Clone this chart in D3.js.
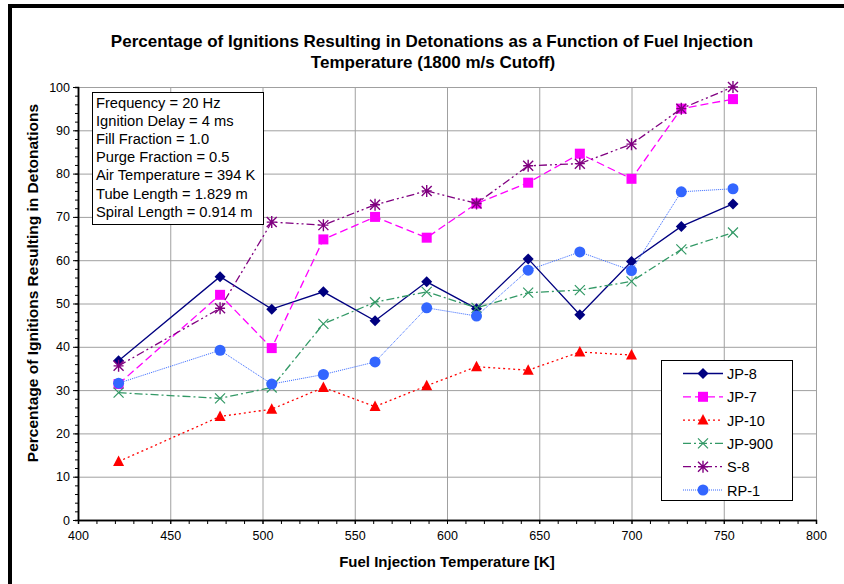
<!DOCTYPE html>
<html><head><meta charset="utf-8">
<script src="https://cdn.jsdelivr.net/npm/d3@7"></script>
<style>body{margin:0;background:#fff}svg{display:block}text{font-family:"Liberation Sans",Arial,sans-serif}</style>
</head><body><div id="chart"></div>
<script>
const temps = [422, 477, 505, 533, 561, 589, 616, 644, 672, 700, 727, 755];
const jp8   = [36.8, 56.2, 48.7, 52.7, 46.0, 55.0, 48.8, 60.3, 47.4, 59.7, 67.8, 73.0];
const jp7   = [31.4, 52.0, 39.7, 64.8, 70.0, 65.2, 73.1, 77.9, 84.6, 78.8, 95.0, 97.2];
const jp10  = [13.5, 23.9, 25.6, 30.6, 26.2, 31.0, 35.4, 34.6, 38.8, 38.1];
const jp900 = [29.4, 28.1, 30.6, 45.3, 50.3, 52.7, 49.0, 52.5, 53.1, 55.1, 62.5, 66.4];
const s8    = [35.6, 48.9, 68.8, 68.1, 72.8, 76.0, 73.1, 81.8, 82.3, 86.8, 95.0, 100.0];
const rp1   = [31.6, 39.2, 31.4, 33.6, 36.5, 49.0, 47.1, 57.7, 61.9, 57.6, 75.8, 76.5];
const seriesNames = ["JP-8", "JP-7", "JP-10", "JP-900", "S-8", "RP-1"];
const xTicks = [400, 450, 500, 550, 600, 650, 700, 750, 800];
const yTicks = [0, 10, 20, 30, 40, 50, 60, 70, 80, 90, 100];
const titleLines = ["Percentage of Ignitions Resulting in Detonations as a Function of Fuel Injection", "Temperature (1800 m/s Cutoff)"];
const infoLines = ["Frequency = 20 Hz", "Ignition Delay = 4 ms", "Fill Fraction = 1.0", "Purge Fraction = 0.5", "Air Temperature = 394 K", "Tube Length = 1.829 m", "Spiral Length = 0.914 m"];

const seriesData = [jp8, jp7, jp10, jp900, s8, rp1];
const styles = [
  {color:"#000080", dash:null, width:1.3, marker:"diamond"},
  {color:"#FF00FF", dash:"8,4", width:1.3, marker:"square"},
  {color:"#FF0000", dash:"2,3", width:1.3, marker:"triangle"},
  {color:"#339966", dash:"8,3,2,3", width:1.3, marker:"x"},
  {color:"#800080", dash:"8,3,2,3,2,3", width:1.3, marker:"asterisk"},
  {color:"#3366FF", dash:"1,1", width:1, marker:"circle"}
];

const W = 844, H = 584;
const svg = d3.select("#chart").append("svg").attr("width", W).attr("height", H);
svg.append("rect").attr("width", W).attr("height", H).attr("fill", "#fff");
// frame
svg.append("rect").attr("x", 8).attr("y", 4).attr("width", W - 8).attr("height", 4).attr("fill", "#000");
svg.append("rect").attr("x", 8).attr("y", 4).attr("width", 4).attr("height", H - 4).attr("fill", "#000");

const x = d3.scaleLinear().domain([400, 800]).range([78, 816]);
const y = d3.scaleLinear().domain([0, 100]).range([520, 87]);

// title
svg.append("text").attr("x", 432).attr("y", 47).attr("text-anchor", "middle")
  .attr("font-size", 17).attr("font-weight", "bold").text(titleLines[0]);
svg.append("text").attr("x", 433).attr("y", 68).attr("text-anchor", "middle")
  .attr("font-size", 17).attr("font-weight", "bold").text(titleLines[1]);

// grid
const g = svg.append("g");
g.selectAll(".gx").data(xTicks.slice(1)).enter().append("line")
  .attr("x1", d => x(d) + 0.5).attr("x2", d => x(d) + 0.5).attr("y1", y(100)).attr("y2", y(0))
  .attr("stroke", "#a0a0a0").attr("stroke-width", 1);
g.selectAll(".gy").data(yTicks.slice(1)).enter().append("line")
  .attr("x1", x(400)).attr("x2", x(800)).attr("y1", d => y(d) + 0.5).attr("y2", d => y(d) + 0.5)
  .attr("stroke", "#a0a0a0").attr("stroke-width", 1);

// axes
const xAxis = d3.axisBottom(x).tickValues(xTicks).tickSize(4).tickSizeOuter(0).tickPadding(7);
const xMinor = d3.axisBottom(x).tickValues(d3.range(400, 801, 10)).tickSize(4).tickFormat("");
const yAxis = d3.axisLeft(y).tickValues(yTicks).tickSize(5).tickSizeOuter(0).tickPadding(3);
const yMinor = d3.axisLeft(y).tickValues(d3.range(0, 101, 2)).tickSize(3).tickFormat("");

const gxm = svg.append("g").attr("transform", `translate(0,${y(0)})`).call(xMinor);
const gx = svg.append("g").attr("transform", `translate(0,${y(0)})`).call(xAxis);
const gym = svg.append("g").attr("transform", `translate(${x(400)},0)`).call(yMinor);
const gy = svg.append("g").attr("transform", `translate(${x(400)},0)`).call(yAxis);
[gx, gxm, gy, gym].forEach(a => {
  a.selectAll("path").attr("stroke", "#000").attr("stroke-width", 1.5);
  a.selectAll("line").attr("stroke", "#000");
  a.selectAll("text").attr("font-size", 12.5).attr("fill", "#000").attr("font-family", "Liberation Sans, Arial, sans-serif");
});

// axis titles
svg.append("text").attr("x", 447).attr("y", 567).attr("text-anchor", "middle")
  .attr("font-size", 15).attr("font-weight", "bold").text("Fuel Injection Temperature [K]");
svg.append("text").attr("transform", `translate(38,${283}) rotate(-90)`).attr("text-anchor", "middle")
  .attr("font-size", 15.5).attr("font-weight", "bold").text("Percentage of Ignitions Resulting in Detonations");

// markers
function drawMarker(sel, type, color, cx, cy) {
  if (type === "diamond") {
    sel.append("path").attr("d", `M${cx},${cy-5.5}L${cx+5.5},${cy}L${cx},${cy+5.5}L${cx-5.5},${cy}Z`).attr("fill", color);
  } else if (type === "square") {
    sel.append("rect").attr("x", cx-5).attr("y", cy-5).attr("width", 10).attr("height", 10).attr("fill", color);
  } else if (type === "triangle") {
    sel.append("path").attr("d", `M${cx},${cy-6}L${cx+5.5},${cy+4.5}L${cx-5.5},${cy+4.5}Z`).attr("fill", color);
  } else if (type === "x") {
    sel.append("path").attr("d", `M${cx-5},${cy-5}L${cx+5},${cy+5}M${cx-5},${cy+5}L${cx+5},${cy-5}`).attr("stroke", color).attr("stroke-width", 1.2).attr("fill", "none");
  } else if (type === "asterisk") {
    sel.append("path").attr("d", `M${cx-5},${cy-5}L${cx+5},${cy+5}M${cx-5},${cy+5}L${cx+5},${cy-5}M${cx},${cy-6}L${cx},${cy+6}M${cx-5},${cy}L${cx+5},${cy}`).attr("stroke", color).attr("stroke-width", 1.4).attr("fill", "none");
  } else if (type === "circle") {
    sel.append("circle").attr("cx", cx).attr("cy", cy).attr("r", 5.5).attr("fill", color);
  }
}

const line = d3.line().x(d => x(d[0])).y(d => y(d[1]));
seriesData.forEach((vals, i) => {
  const st = styles[i];
  const pts = vals.map((v, j) => [temps[j], v]);
  const sg = svg.append("g");
  sg.append("path").attr("d", line(pts)).attr("fill", "none").attr("stroke", st.color)
    .attr("stroke-width", st.width).attr("stroke-dasharray", st.dash);
  pts.forEach(p => drawMarker(sg, st.marker, st.color, x(p[0]), y(p[1])));
});

// info box
const ib = svg.append("g");
ib.append("rect").attr("x", 92.5).attr("y", 92.5).attr("width", 171).attr("height", 132)
  .attr("fill", "#fff").attr("stroke", "#000").attr("stroke-width", 1);
infoLines.forEach((t, i) => {
  ib.append("text").attr("x", 96).attr("y", 107.5 + i * 18.2).attr("font-size", 14.7).text(t);
});

// legend
const lg = svg.append("g");
lg.append("rect").attr("x", 661.5).attr("y", 360.5).attr("width", 131).attr("height", 140)
  .attr("fill", "#fff").attr("stroke", "#000").attr("stroke-width", 1);
seriesNames.forEach((n, i) => {
  const st = styles[i];
  const ly = 373.5 + i * 23.3;
  lg.append("line").attr("x1", 683).attr("x2", 723).attr("y1", ly).attr("y2", ly)
    .attr("stroke", st.color).attr("stroke-width", st.width).attr("stroke-dasharray", st.dash);
  drawMarker(lg, st.marker, st.color, 703, ly);
  lg.append("text").attr("x", 727).attr("y", ly + 5.5).attr("font-size", 14.5).text(n);
});
</script></body></html>
